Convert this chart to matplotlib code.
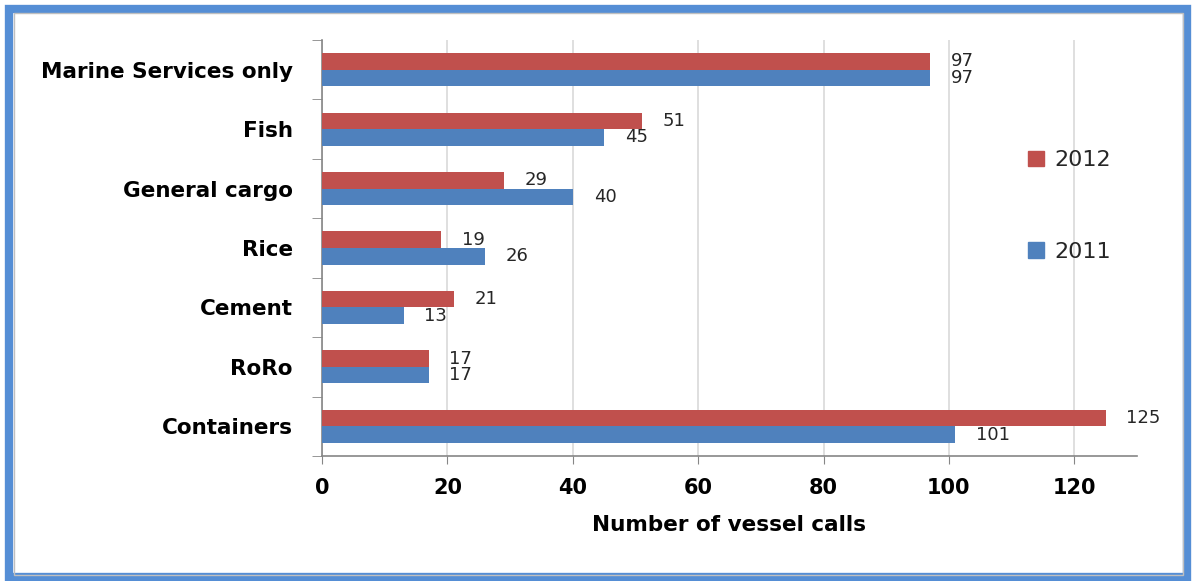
import matplotlib
matplotlib.use("Agg")
import matplotlib.pyplot as plt
from matplotlib.patches import Rectangle, Patch
import numpy as np

categories = ["Containers", "RoRo", "Cement", "Rice", "General cargo", "Fish", "Marine Services only"]
vals_2012 = [125, 17, 21, 19, 29, 51, 97]
vals_2011 = [101, 17, 13, 26, 40, 45, 97]
xticks = [0, 20, 40, 60, 80, 100, 120]

W, H = 1192, 581
fig = plt.figure(figsize=(W / 100, H / 100), dpi=100)
fig.patch.set_facecolor("white")

ax = fig.add_axes([322 / W, 1 - 456 / H, (1137 - 322) / W, (456 - 40) / H])

red = "#C0504D"
blue = "#4F81BD"
y = np.arange(len(categories))
h = 0.28
ax.barh(y + h / 2, vals_2012, height=h, color=red, label="2012", zorder=3)
ax.barh(y - h / 2, vals_2011, height=h, color=blue, label="2011", zorder=3)

for yi, v in zip(y, vals_2012):
    ax.annotate(str(v), (v, yi + h / 2), xytext=(15, 0), textcoords="offset points",
                va="center", ha="left", fontsize=13, color="#262626")
for yi, v in zip(y, vals_2011):
    ax.annotate(str(v), (v, yi - h / 2), xytext=(15, 0), textcoords="offset points",
                va="center", ha="left", fontsize=13, color="#262626")

ax.set_xlim(0, 130)
ax.set_ylim(-0.5, len(categories) - 0.5)
ax.set_xticks(xticks)
ax.set_xticklabels([str(t) for t in xticks], fontsize=15, fontweight="bold")
ax.set_yticks(y)
ax.set_yticklabels(categories, fontsize=15.5, fontweight="bold")
ax.set_yticks(np.arange(-0.5, len(categories), 1.0), minor=True)
ax.tick_params(axis="y", which="major", length=0, pad=21)
ax.tick_params(axis="y", which="minor", length=7, color="#868686", direction="out")
ax.tick_params(axis="x", which="major", length=6, color="#868686", direction="out", pad=10)

ax.grid(axis="x", color="#D9D9D9", linewidth=1.2, zorder=0)
for s in ["top", "right"]:
    ax.spines[s].set_visible(False)
for s in ["left", "bottom"]:
    ax.spines[s].set_color("#868686")
    ax.spines[s].set_linewidth(1.2)

ax.set_xlabel("Number of vessel calls", fontsize=15.5, fontweight="bold", labelpad=12)

handles = [Patch(color=red, label="2012"), Patch(color=blue, label="2011")]
leg = ax.legend(handles=handles, loc="center left", bbox_to_anchor=(1008 / W, 1 - 206 / H),
                bbox_transform=fig.transFigure, frameon=False, fontsize=16,
                handlelength=0.7, handleheight=0.7, labelspacing=3.2, handletextpad=0.5)
for t in leg.get_texts():
    t.set_color("#262626")

# outer frame
fig.patches.append(Rectangle((9 / W, 4 / H), 1178 / W, 568 / H, transform=fig.transFigure,
                             fill=False, edgecolor="#558ED5", linewidth=6))
fig.patches.append(Rectangle((14 / W, 6 / H), 1169 / W, 562 / H, transform=fig.transFigure,
                             fill=False, edgecolor="#BFBFBF", linewidth=1))

fig.savefig("out.png", dpi=100)
